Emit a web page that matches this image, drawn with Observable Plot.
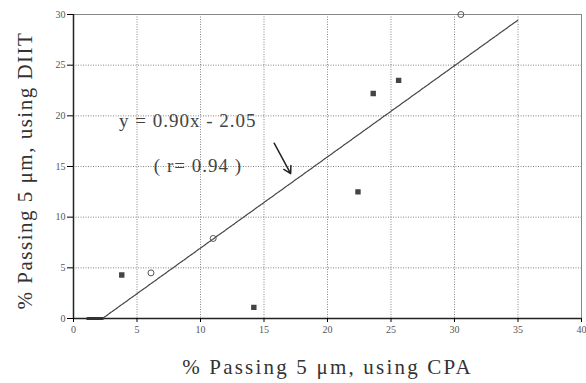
<!DOCTYPE html>
<html>
<head>
<meta charset="utf-8">
<script src="https://cdn.jsdelivr.net/npm/d3@7"></script>
<script src="https://cdn.jsdelivr.net/npm/@observablehq/plot@0.6"></script>
<style>
  html, body { margin: 0; padding: 0; background: #fff; }
  svg { font-family: "Liberation Serif", "DejaVu Serif", serif; }
</style>
</head>
<body>
<div id="chart"></div>
<script>
// Data
const squareX = [3.8, 14.2, 22.4, 23.6, 25.6];
const squareY = [4.3, 1.1, 12.5, 22.2, 23.5];
const circleX = [6.1, 11.0, 30.5];
const circleY = [4.5, 7.9, 30.0];
const slope = 0.90, intercept = -2.05;
const fitX = [2.28, 35];
const baseSegX = [1.1, 2.28];
const xTicks = [0, 5, 10, 15, 20, 25, 30, 35, 40];
const yTicks = [0, 5, 10, 15, 20, 25, 30];
const gridX = [5, 10, 15, 20, 25, 30, 35];
const gridY = [5, 10, 15, 20, 25];
const eqText = ["y = 0.90x - 2.05", "( r= 0.94 )"];
const eqX = [9.0, 9.8];
const eqY = [19.5, 15.1];
const arrowFrom = [15.8, 17.3];
const arrowTo = [17.1, 14.3];
const xLabel = "% Passing 5 μm, using CPA";
const yLabel = "% Passing 5 μm, using DIIT";

const squares = squareX.map((x, i) => ({x, y: squareY[i]}));
const circles = circleX.map((x, i) => ({x, y: circleY[i]}));
const fit = fitX.map(x => ({x, y: slope * x + intercept}));
const baseSeg = baseSegX.map(x => ({x, y: 0}));
const labels = eqText.map((t, i) => ({t, x: eqX[i], y: eqY[i]}));

const chart = Plot.plot({
  width: 586,
  height: 383,
  marginLeft: 73,
  marginRight: 5,
  marginTop: 14,
  marginBottom: 65,
  x: {domain: [0, 40], ticks: xTicks},
  y: {domain: [0, 30], ticks: yTicks},
  style: {fontFamily: "Liberation Serif, serif", background: "#fff"},
  marks: [
    Plot.ruleX(gridX, {x: d => d, stroke: "#666", strokeDasharray: "1,1.5", strokeWidth: 1, strokeOpacity: 0.8}),
    Plot.ruleY(gridY, {y: d => d, stroke: "#666", strokeDasharray: "1,1.5", strokeWidth: 1, strokeOpacity: 0.8}),
    Plot.ruleY([30], {stroke: "#888", strokeWidth: 1}),
    Plot.ruleX([40], {stroke: "#888", strokeWidth: 1}),
    Plot.ruleX([0], {stroke: "#222", strokeWidth: 1.5}),
    Plot.ruleY([0], {stroke: "#222", strokeWidth: 1.5}),
    Plot.axisX({ticks: xTicks, tickSize: 4, fontSize: 10, fill: "#555", tickPadding: 3, label: null}),
    Plot.axisY({ticks: yTicks, tickSize: 6, fontSize: 10, fill: "#555", tickPadding: 2, label: null}),
    Plot.text([xLabel], {frameAnchor: "bottom", text: d => d, lineAnchor: "middle", dx: 0, dy: 49, fontSize: 21, fill: "#333"}),
    Plot.text([yLabel], {frameAnchor: "left", text: d => d, textAnchor: "middle", lineAnchor: "middle", dx: -48, dy: 4, rotate: -90, fontSize: 21, fill: "#333"}),
    Plot.line(fit, {x: "x", y: "y", stroke: "#444", strokeWidth: 1.2, strokeDasharray: "3,1"}),
    Plot.line(baseSeg, {x: "x", y: "y", stroke: "#333", strokeWidth: 3}),
    Plot.dot(squares, {x: "x", y: "y", symbol: "square", r: 2.2, fill: "#444", stroke: "#444"}),
    Plot.dot(circles, {x: "x", y: "y", symbol: "circle", r: 3, fill: "none", stroke: "#555", strokeWidth: 1}),
    Plot.arrow([{x1: arrowFrom[0], y1: arrowFrom[1], x2: arrowTo[0], y2: arrowTo[1]}],
      {x1: "x1", y1: "y1", x2: "x2", y2: "y2", stroke: "#222", strokeWidth: 1.5, headLength: 8}),
    Plot.text(labels, {x: "x", y: "y", text: "t", fontSize: 19, fill: "#444"})
  ]
});
chart.querySelectorAll("text").forEach(t => {
  const s = t.textContent;
  if (s === xLabel) t.setAttribute("letter-spacing", "2.2");
  else if (s === yLabel) t.setAttribute("letter-spacing", "1.5");
  else if (eqText.includes(s)) t.setAttribute("letter-spacing", "1");
});
document.getElementById("chart").appendChild(chart);
</script>
</body>
</html>
